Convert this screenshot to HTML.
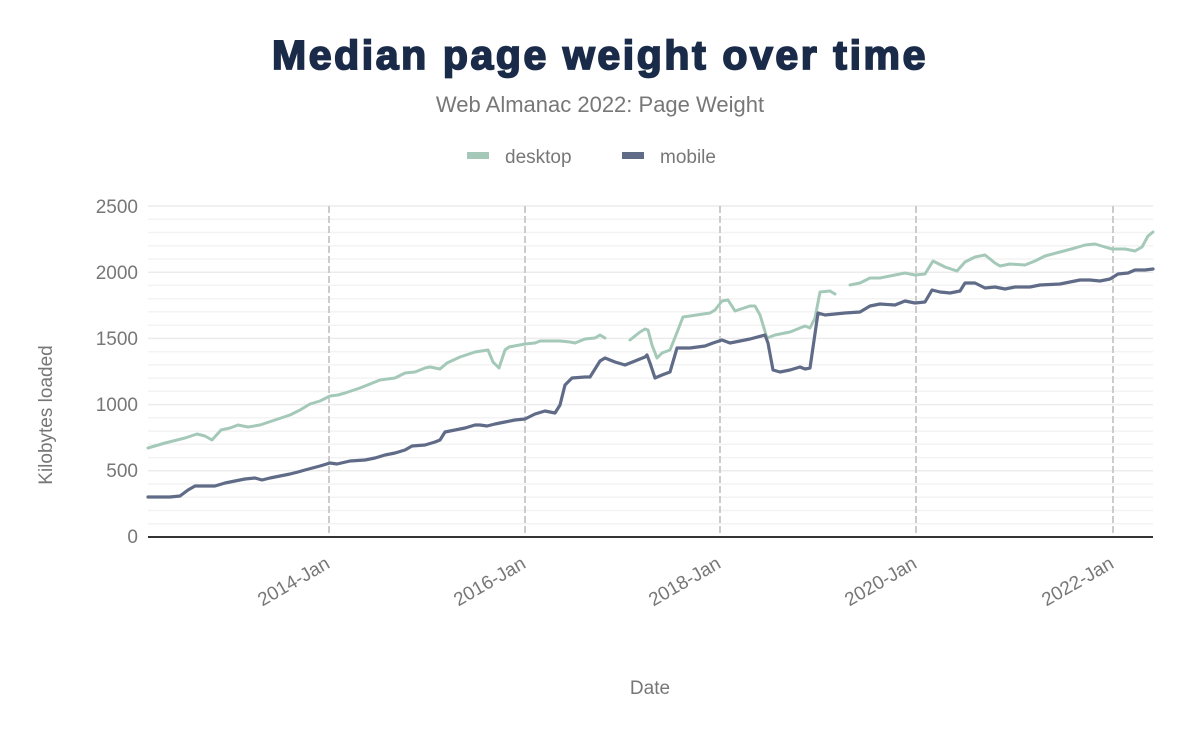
<!DOCTYPE html>
<html><head><meta charset="utf-8"><style>
body{margin:0;background:#fff;}
svg{display:block;font-family:"Liberation Sans",sans-serif;}
</style></head><body>
<svg width="1200" height="742" viewBox="0 0 1200 742">
<text x="600" y="69" text-anchor="middle" font-size="41" font-weight="bold" fill="#1a2b49" stroke="#1a2b49" stroke-width="1.8" letter-spacing="2.6">Median page weight over time</text>
<text x="600" y="112" text-anchor="middle" font-size="22" fill="#777">Web Almanac 2022: Page Weight</text>
<rect x="467" y="152" width="22" height="7" fill="#a5c9b8"/>
<text x="505" y="163" font-size="19" fill="#777">desktop</text>
<rect x="622" y="152" width="22" height="7" fill="#5f6b87"/>
<text x="660" y="163" font-size="19" fill="#777">mobile</text>
<g stroke="#f3f3f3" stroke-width="1.5">
<line x1="148" x2="1153" y1="523.8" y2="523.8"/><line x1="148" x2="1153" y1="510.5" y2="510.5"/><line x1="148" x2="1153" y1="497.3" y2="497.3"/><line x1="148" x2="1153" y1="484" y2="484"/>
<line x1="148" x2="1153" y1="457.6" y2="457.6"/><line x1="148" x2="1153" y1="444.3" y2="444.3"/><line x1="148" x2="1153" y1="431.1" y2="431.1"/><line x1="148" x2="1153" y1="417.8" y2="417.8"/>
<line x1="148" x2="1153" y1="391.4" y2="391.4"/><line x1="148" x2="1153" y1="378.1" y2="378.1"/><line x1="148" x2="1153" y1="364.9" y2="364.9"/><line x1="148" x2="1153" y1="351.6" y2="351.6"/>
<line x1="148" x2="1153" y1="325.2" y2="325.2"/><line x1="148" x2="1153" y1="311.9" y2="311.9"/><line x1="148" x2="1153" y1="298.7" y2="298.7"/><line x1="148" x2="1153" y1="285.4" y2="285.4"/>
<line x1="148" x2="1153" y1="259" y2="259"/><line x1="148" x2="1153" y1="245.7" y2="245.7"/><line x1="148" x2="1153" y1="232.5" y2="232.5"/><line x1="148" x2="1153" y1="219.2" y2="219.2"/>
</g>
<g stroke="#ececec" stroke-width="1.5">
<line x1="148" x2="1153" y1="470.8" y2="470.8"/><line x1="148" x2="1153" y1="404.6" y2="404.6"/><line x1="148" x2="1153" y1="338.4" y2="338.4"/><line x1="148" x2="1153" y1="272.2" y2="272.2"/><line x1="148" x2="1153" y1="206" y2="206"/>
</g>
<g stroke="#ccc" stroke-width="2" stroke-dasharray="7,3">
<line x1="329" x2="329" y1="206" y2="537"/><line x1="525" x2="525" y1="206" y2="537"/><line x1="720" x2="720" y1="206" y2="537"/><line x1="916" x2="916" y1="206" y2="537"/><line x1="1113" x2="1113" y1="206" y2="537"/>
</g>
<line x1="148" x2="1153" y1="537" y2="537" stroke="#333" stroke-width="2"/>
<g font-size="19" fill="#777" text-anchor="end">
<text x="138" y="543">0</text><text x="138" y="477">500</text><text x="138" y="411">1000</text><text x="138" y="345">1500</text><text x="138" y="279">2000</text><text x="138" y="213">2500</text>
</g>
<g font-size="19" fill="#777" text-anchor="end">
<text transform="translate(331,567) rotate(-30)">2014-Jan</text>
<text transform="translate(527,567) rotate(-30)">2016-Jan</text>
<text transform="translate(722,567) rotate(-30)">2018-Jan</text>
<text transform="translate(918,567) rotate(-30)">2020-Jan</text>
<text transform="translate(1115,567) rotate(-30)">2022-Jan</text>
</g>
<text x="650" y="694" text-anchor="middle" font-size="19" fill="#777">Date</text>
<text transform="translate(52,415) rotate(-90)" text-anchor="middle" font-size="19" fill="#777">Kilobytes loaded</text>
<g fill="none" stroke-width="3" stroke-linejoin="round" stroke-linecap="round">
<g stroke="#a5c9b8">
<polyline points="148,448 165,443 185,438 197,434 205,436 212,440 221,430 230,428 238,425 248,427 260,425 275,420 290,415 300,410 310,404 320,401 330,396 338,395 345,393 360,388 380,380 395,378 405,373 415,372 425,368 430,367 440,369 447,363 460,357 475,352 488,350 493,362 499,368 505,350 509,347 525,344 535,343 540,341 560,341 570,342 575,343 585,339 595,338 600,335 605,338"/>
<polyline points="630,340 640,332 645,329 648,330 652,345 657,358 662,353 670,350 676,335 683,317 690,316 710,313 715,310 722,301 728,300 735,311 750,306 755,306 760,315 767,338 775,335 790,332 800,328 805,326 810,328 815,318 820,292 830,291 835,294"/>
<polyline points="850,285 860,283 870,278 880,278 890,276 905,273 915,275 925,274 933,261 945,267 957,271 965,262 975,257 985,255 995,263 1000,266 1010,264 1025,265 1035,261 1045,256 1060,252 1075,248 1085,245 1095,244 1105,247 1112,249 1125,249 1135,251 1142,247 1148,236 1153,232"/>
</g>
<polyline stroke="#5f6b87" stroke-width="3.2" points="148,497 170,497 180,496 188,490 195,486 205,486 215,486 225,483 235,481 245,479 255,478 262,480 270,478 280,476 290,474 298,472 305,470 320,466 330,463 337,464 350,461 365,460 375,458 385,455 395,453 405,450 412,446 425,445 435,442 440,440 445,432 455,430 465,428 475,425 480,425 487,426 495,424 505,422 515,420 525,419 535,414 545,411 555,413 560,405 565,385 572,378 585,377 590,377 600,361 605,358 615,362 625,365 635,361 645,357 647,355 650,363 655,378 662,375 670,372 677,348 690,348 705,346 713,343 722,340 730,343 740,341 750,339 765,335 768,343 773,370 780,372 790,370 800,367 805,369 810,368 818,313 825,315 845,313 860,312 870,306 880,304 895,305 905,301 915,303 925,302 932,290 940,292 950,293 960,291 965,283 975,283 985,288 995,287 1005,289 1015,287 1030,287 1040,285 1060,284 1080,280 1090,280 1100,281 1110,279 1118,274 1128,273 1135,270 1145,270 1153,269"/>
</g>
</svg>
</body></html>
